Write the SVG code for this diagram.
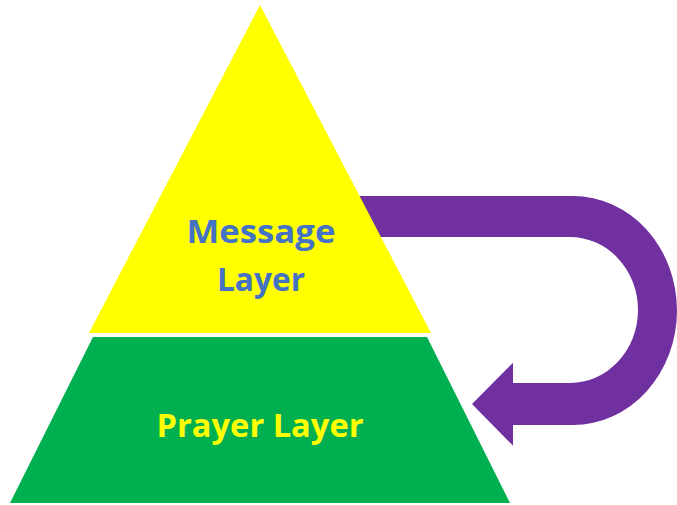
<svg xmlns="http://www.w3.org/2000/svg" width="677" height="505" viewBox="0 0 677 505">
  <style>
    .lbl { font-family: "Open Sans", "Liberation Sans", sans-serif; font-weight: bold; font-size: 32px; text-anchor: middle; }
  </style>
  <rect width="677" height="505" fill="#FFFFFF"/>
  <g id="connectors">
    <path d="M 340 196 H 573 A 104 114.5 0 0 1 573 425 H 513 V 445.7 L 472 404 L 513 362.7 V 383 H 570 A 68 73 0 0 0 570 237 H 340 Z" fill="#7030A0"/>
  </g>
  <g id="message-layer">
    <polygon points="260,5 431,333 89,333" fill="#FFFF00"/>
    <text class="lbl" x="261" y="243" fill="#4472C4" textLength="149" lengthAdjust="spacingAndGlyphs">Message</text>
    <text class="lbl" x="261" y="291" fill="#4472C4" textLength="88" lengthAdjust="spacingAndGlyphs">Layer</text>
  </g>
  <g id="prayer-layer">
    <polygon points="93,337 427,337 510,503 10,503" fill="#00B050"/>
    <text class="lbl" x="260" y="437" fill="#FFFF00" textLength="207" lengthAdjust="spacingAndGlyphs">Prayer Layer</text>
  </g>
</svg>
